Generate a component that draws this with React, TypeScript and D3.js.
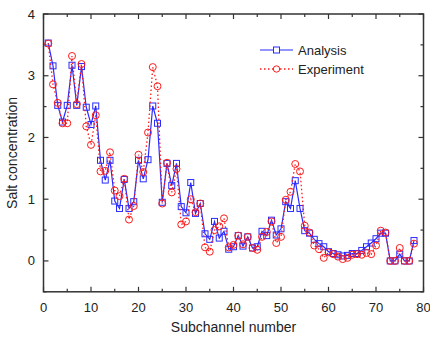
import React, { useRef, useEffect } from 'react';
import * as d3 from 'd3';

// subchannel numbers 1..78
const subchannels: number[] = Array.from({ length: 78 }, (_, i) => i + 1);

const analysis: number[] = [
  3.53, 3.16, 2.52, 2.25, 2.52, 3.17, 2.52, 3.15, 2.49, 2.21,
  2.51, 1.63, 1.31, 1.63, 0.97, 0.85, 1.32, 0.85, 0.96, 1.63,
  1.33, 1.64, 2.51, 2.23, 0.95, 1.58, 1.22, 1.58, 0.88, 0.78,
  1.27, 0.77, 0.93, 0.44, 0.35, 0.64, 0.37, 0.48, 0.19, 0.23,
  0.41, 0.24, 0.39, 0.21, 0.23, 0.48, 0.41, 0.66, 0.42, 0.52,
  0.96, 0.85, 1.30, 0.85, 0.49, 0.45, 0.35, 0.28, 0.23, 0.15,
  0.12, 0.10, 0.08, 0.09, 0.12, 0.12, 0.17, 0.23, 0.29, 0.36,
  0.45, 0.45, 0.0, 0.0, 0.11, 0.0, 0.0, 0.33,
];

const experiment: number[] = [
  3.52, 2.86, 2.56, 2.23, 2.23, 3.32, 2.54, 3.19, 2.18, 1.88,
  2.36, 1.45, 1.46, 1.76, 1.14, 1.05, 1.33, 0.67, 0.89, 1.72,
  1.44, 2.08, 3.14, 2.83, 0.93, 1.59, 1.11, 1.49, 0.59, 0.64,
  1.0, 0.79, 0.93, 0.22, 0.15, 0.5, 0.56, 0.69, 0.22, 0.26,
  0.41, 0.27, 0.39, 0.21, 0.18, 0.39, 0.47, 0.64, 0.29, 0.39,
  0.99, 1.12, 1.57, 1.45, 0.57, 0.46, 0.25, 0.19, 0.05, 0.14,
  0.11, 0.07, 0.03, 0.05, 0.10, 0.11, 0.10, 0.13, 0.11, 0.25,
  0.49, 0.46, 0.0, 0.0, 0.21, 0.0, 0.0, 0.28,
];

const xTicks = [0, 10, 20, 30, 40, 50, 60, 70, 80];
const yTicks = [0, 1, 2, 3, 4];

const FONT = 'Liberation Sans, Arial, sans-serif';

export default function App() {
  const svgRef = useRef<SVGSVGElement | null>(null);

  useEffect(() => {
    if (!svgRef.current) return;
    const svg = d3.select(svgRef.current);
    svg.selectAll('*').remove();

    const left = 43.5, right = 423.5, top = 14, bottom = 291.8;
    const x = d3.scaleLinear().domain([0, 80]).range([left, right]);
    const y = d3.scaleLinear().domain([-0.5, 4]).range([bottom, top]);
    const axisColor = '#333';

    // frame
    svg.append('rect')
      .attr('x', left).attr('y', top)
      .attr('width', right - left).attr('height', bottom - top)
      .attr('fill', 'none').attr('stroke', axisColor).attr('stroke-width', 1.5);

    // x ticks (major every 10, minor every 5), inward on bottom and top
    d3.range(0, 81, 5).forEach(v => {
      const len = v % 10 === 0 ? 5 : 3;
      svg.append('line').attr('x1', x(v)).attr('x2', x(v))
        .attr('y1', bottom).attr('y2', bottom - len)
        .attr('stroke', axisColor).attr('stroke-width', 1.2);
      svg.append('line').attr('x1', x(v)).attr('x2', x(v))
        .attr('y1', top).attr('y2', top + len)
        .attr('stroke', axisColor).attr('stroke-width', 1.2);
    });
    // y ticks (major every 1, minor every 0.5), inward on left and right
    d3.range(-0.5, 4.01, 0.5).forEach(v => {
      const major = Math.abs(v - Math.round(v)) < 1e-6;
      const len = major ? 5 : 3;
      svg.append('line').attr('x1', left).attr('x2', left + len)
        .attr('y1', y(v)).attr('y2', y(v))
        .attr('stroke', axisColor).attr('stroke-width', 1.2);
      svg.append('line').attr('x1', right).attr('x2', right - len)
        .attr('y1', y(v)).attr('y2', y(v))
        .attr('stroke', axisColor).attr('stroke-width', 1.2);
    });

    // tick labels
    svg.append('g').selectAll('text').data(xTicks).join('text')
      .attr('x', d => x(d)).attr('y', 312)
      .attr('text-anchor', 'middle')
      .style('font-family', FONT).style('font-size', '13px').attr('fill', '#222')
      .text(d => d);
    svg.append('g').selectAll('text').data(yTicks).join('text')
      .attr('x', 35).attr('y', d => y(d) + 4.5)
      .attr('text-anchor', 'end')
      .style('font-family', FONT).style('font-size', '13px').attr('fill', '#222')
      .text(d => d);

    // axis titles
    svg.append('text').attr('x', (left + right) / 2).attr('y', 332)
      .attr('text-anchor', 'middle')
      .style('font-family', FONT).style('font-size', '14px').attr('fill', '#222')
      .text('Subchannel number');
    svg.append('text')
      .attr('transform', `translate(17,${(top + bottom) / 2}) rotate(-90)`)
      .attr('text-anchor', 'middle')
      .style('font-family', FONT).style('font-size', '14px').attr('fill', '#222')
      .text('Salt concentration');

    const blue = '#2b2bff';
    const red = '#ff1a1a';

    const line = (vals: number[]) => d3.line<number>()
      .x((_, i) => x(subchannels[i]))
      .y(d => y(d))(vals);

    // Analysis
    svg.append('path').attr('d', line(analysis))
      .attr('fill', 'none').attr('stroke', blue).attr('stroke-width', 1.2);
    svg.append('g').selectAll('rect').data(analysis).join('rect')
      .attr('x', (_, i) => x(subchannels[i]) - 3)
      .attr('y', d => y(d) - 3)
      .attr('width', 6).attr('height', 6)
      .attr('fill', 'none').attr('stroke', blue).attr('stroke-width', 1);

    // Experiment
    svg.append('path').attr('d', line(experiment))
      .attr('fill', 'none').attr('stroke', red).attr('stroke-width', 1.3)
      .attr('stroke-dasharray', '1.5,2.5');
    svg.append('g').selectAll('circle').data(experiment).join('circle')
      .attr('cx', (_, i) => x(subchannels[i]))
      .attr('cy', d => y(d))
      .attr('r', 3.5)
      .attr('fill', 'none').attr('stroke', red).attr('stroke-width', 1);

    // legend
    const lg = svg.append('g');
    lg.append('line').attr('x1', 260).attr('x2', 293).attr('y1', 50).attr('y2', 50)
      .attr('stroke', blue).attr('stroke-width', 1.2);
    lg.append('rect').attr('x', 273.5).attr('y', 47).attr('width', 6).attr('height', 6)
      .attr('fill', 'white').attr('stroke', blue);
    lg.append('text').attr('x', 298).attr('y', 55)
      .style('font-family', FONT).style('font-size', '13px').attr('fill', '#222')
      .text('Analysis');
    lg.append('line').attr('x1', 260).attr('x2', 293).attr('y1', 69).attr('y2', 69)
      .attr('stroke', red).attr('stroke-width', 1.3).attr('stroke-dasharray', '1.5,2.5');
    lg.append('circle').attr('cx', 276.5).attr('cy', 69).attr('r', 3.2)
      .attr('fill', 'white').attr('stroke', red);
    lg.append('text').attr('x', 298).attr('y', 74)
      .style('font-family', FONT).style('font-size', '13px').attr('fill', '#222')
      .text('Experiment');
  }, []);

  return (
    <svg ref={svgRef} width={430} height={338}
      style={{ position: 'absolute', left: 0, top: 0, background: 'white' }} />
  );
}
